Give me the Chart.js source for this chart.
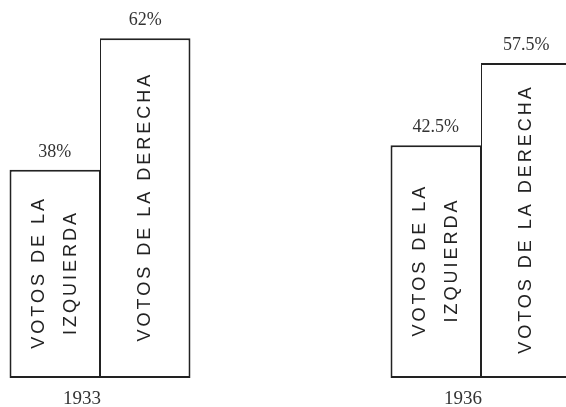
<!DOCTYPE html>
<html lang="es">
<head>
  <meta charset="UTF-8" />
  <title>Votos 1933 / 1936</title>
  <script src="https://cdn.jsdelivr.net/npm/chart.js"></script>
  <style>
    html, body {
      margin: 0;
      padding: 0;
      background: #fff;
      overflow: hidden;
    }
    #wrap {
      width: 576px;
      height: 407px;
    }
  </style>
</head>
<body>
  <div id="wrap">
    <canvas id="votosChart" width="576" height="407"></canvas>
  </div>

  <script>
    // data
    const years = [1933, 1936];
    const izquierda = [38, 42.5];
    const derecha = [62, 57.5];
    const izquierdaText = ['VOTOS DE LA', 'IZQUIERDA'];
    const derechaText = ['VOTOS DE LA DERECHA'];

    const ink = '#222';

    // value on top + rotated caption inside each bar
    const barText = {
      id: 'barText',
      afterDatasetsDraw(chart) {
        const ctx = chart.ctx;
        chart.data.datasets.forEach((ds, i) => {
          const meta = chart.getDatasetMeta(i);
          meta.data.forEach((bar, j) => {
            const val = ds.data[j].y;
            ctx.save();
            ctx.fillStyle = '#333';
            ctx.font = '18px "Liberation Serif", serif';
            ctx.textAlign = 'center';
            ctx.textBaseline = 'alphabetic';
            ctx.fillText(val + '%', bar.x, bar.y - 13);
            ctx.restore();

            const lines = ds.caption;
            const cy = (bar.y + bar.base) / 2;
            ctx.save();
            ctx.translate(bar.x, cy);
            ctx.rotate(-Math.PI / 2);
            ctx.fillStyle = ink;
            ctx.font = '18px "Liberation Sans", sans-serif';
            ctx.letterSpacing = '3px';
            ctx.textAlign = 'center';
            ctx.textBaseline = 'middle';
            lines.forEach((t, k) => {
              ctx.fillText(t, 1.5, (k - (lines.length - 1) / 2) * 32);
            });
            ctx.restore();
          });
        });
      }
    };

    new Chart(document.getElementById('votosChart'), {
      type: 'bar',
      data: {
        datasets: [
          {
            label: 'Izquierda',
            data: years.map((y, i) => ({ x: y, y: izquierda[i] })),
            caption: izquierdaText,
            backgroundColor: '#fff',
            borderColor: ink,
            borderWidth: { top: 2, left: 2, bottom: 2, right: 1 },
            borderSkipped: false
          },
          {
            label: 'Derecha',
            data: years.map((y, i) => ({ x: y, y: derecha[i] })),
            caption: derechaText,
            backgroundColor: '#fff',
            borderColor: ink,
            borderWidth: { top: 2, left: 1, bottom: 2, right: 2 },
            borderSkipped: false
          }
        ]
      },
      options: {
        responsive: false,
        animation: false,
        categoryPercentage: 0.475,
        barPercentage: 1,
        layout: { padding: 0 },
        plugins: {
          legend: { display: false },
          tooltip: { enabled: false }
        },
        scales: {
          x: {
            type: 'linear',
            offset: false,
            min: 1932.2126,
            max: 1936.748,
            afterBuildTicks: scale => {
              scale.ticks = years.map(v => ({ value: v }));
            },
            afterFit: scale => {
              scale.height = 29;
            },
            grid: { display: false, drawTicks: false },
            border: { display: false },
            ticks: {
              callback: v => String(v),
              color: '#333',
              font: { family: '"Liberation Serif", serif', size: 19 },
              padding: 10,
              labelOffset: -18,
              maxRotation: 0
            }
          },
          y: {
            display: false,
            min: 0,
            max: 69
          }
        }
      },
      plugins: [barText]
    });
  </script>
</body>
</html>
